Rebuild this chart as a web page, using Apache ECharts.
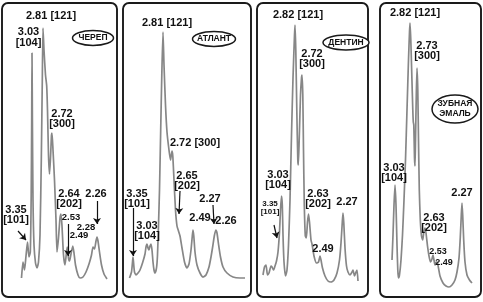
<!DOCTYPE html>
<html>
<head>
<meta charset="utf-8">
<script src="https://cdn.jsdelivr.net/npm/echarts@6/dist/echarts.min.js"></script>
<style>
  html, body { margin: 0; padding: 0; background: #fff; }
  #chart { width: 483px; height: 302px; }
</style>
</head>
<body>
<div id="chart"></div>
<script>
// samples, left to right
const samples = ['ЧЕРЕП', 'АТЛАНТ', 'ДЕНТИН', 'ЗУБНАЯ\nЭМАЛЬ'];

// diffraction traces: [channel, counts]
const trace1 = [[19.5,19],[21,35],[22.5,27],[24,41],[25.5,55],[27,40],[28.3,45],[29.2,102],[29.7,177],[30,244],[30.4,177],[31,97],[32,52],[33.5,34],[35,29],[36.5,35],[38,62],[39.3,137],[40.3,217],[41,269],[42,247],[43.5,222],[44.7,211],[45.5,187],[46.5,142],[47.5,123],[48.5,139],[49.5,162],[50,164],[51,147],[52.5,117],[54,77],[55,45],[56.5,59],[58,79],[59,83],[60,71],[61.5,42],[63,32],[64.5,45],[65.3,50],[66.5,39],[67.5,36],[69,43],[70.8,51],[72,44],[73.5,32],[76,22],[78,19],[81,20],[84,25],[87,33],[89.5,42],[91,50],[92.5,48],[94,56],[95,60],[96,56],[97.5,45],[99.5,32],[102,23],[105,18]];
const trace2 = [[6.5,19],[8.5,25],[9.5,35],[10,40],[10.6,34],[11.5,25],[13,22],[15,24],[17,27],[19.5,34],[22,43],[23,50],[24,53],[25,49],[26,47],[27,51],[28,53],[29,47],[30,35],[31,27],[32,24],[33.5,29],[34.5,42],[35.5,72],[36.5,107],[37.7,167],[38.8,222],[40,265],[41,232],[42.5,192],[44,165],[46,147],[47.5,137],[48.3,142],[49,146],[49.8,141],[51,117],[52.5,87],[54,71],[55.5,66],[57,61],[59,49],[61.5,35],[64,29],[66,33],[68,47],[69.3,61],[70,67],[70.8,61],[72,45],[74,32],[77,24],[80,20],[83,22],[86,30],[88,40],[89.8,51],[91.3,61],[92.8,67],[94,64],[95.5,53],[97.5,40],[100,30],[104,24],[110,20],[117,19],[122,19]];
const trace3 = [[6,22],[7.5,30],[9,32],[10.5,22],[12,24],[14,31],[15,30],[16.5,27],[18,31],[19.5,36],[21,45],[22.5,65],[23.5,87],[24.5,101],[25.3,92],[26,62],[27,35],[28.5,21],[30,27],[31.5,52],[33,97],[34.5,162],[36,219],[37.5,262],[38,272],[38.8,247],[39.8,187],[40.8,137],[41.3,132],[42.2,157],[43.5,202],[44.5,219],[45,222],[45.8,202],[46.5,147],[47.3,92],[48.3,61],[49.3,59],[50.5,75],[51.5,83],[52.5,75],[54,57],[55,53],[57,41],[59.5,34],[61.5,35],[63,41],[64,37],[65.5,29],[68,21],[71,16],[74,15],[77,17],[80,24],[82.5,37],[84,54],[85.3,75],[86,84],[86.8,74],[88,49],[89.5,31],[91,25],[93,22],[94.5,24],[96,27],[97.5,21],[99,25],[100,27],[101,16]];
const trace4 = [[12,37],[13,62],[14,92],[15,112],[16,92],[17,52],[17.8,27],[18.5,19],[19.5,22],[21,37],[22.5,62],[24,97],[25.5,137],[27,187],[28.5,237],[29.5,265],[30,274],[30.8,257],[31.8,222],[32.8,187],[33.3,175],[33.8,172],[34.5,139],[35,131],[35.5,157],[36.3,202],[37,229],[37.8,207],[38.5,157],[39.3,107],[40.3,77],[41.5,61],[42.7,57],[43.8,65],[45,69],[46,64],[47.5,51],[49,41],[50.5,35],[52,38],[53,42],[54,37],[55,32],[56.2,35],[57.2,35],[58.5,29],[60,21],[63,14],[66,11],[69,10],[72,12],[75,17],[77,25],[79,39],[80.3,60],[81.3,82],[82,94],[82.7,82],[83.7,57],[85,35],[87,22],[89.5,17],[92,14]];

// peak labels: d, A [hkl]
const peaks1 = ['2.81 [121]', '3.03\n[104]', '2.72\n[300]', '2.64\n[202]', '2.26', '3.35\n[101]', '2.53', '2.28', '2.49'];
const peaks2 = ['2.81 [121]', '2.72 [300]', '3.35\n[101]', '3.03\n[104]', '2.65\n[202]', '2.49', '2.27', '2.26'];
const peaks3 = ['2.82 [121]', '2.72\n[300]', '3.03\n[104]', '3.35\n[101]', '2.63\n[202]', '2.49', '2.27'];
const peaks4 = ['2.82 [121]', '2.73\n[300]', '3.03\n[104]', '2.27', '2.63\n[202]', '2.53', '2.49'];

// label anchor in data coords + font size
const place1 = [[49,281,11],[26.5,259.5,11],[60,178,11],[67,98,11],[94,103,11],[14,82,11],[69,80,9.5],[84,70,9.5],[77,62,9.5]];
const place2 = [[44,274,11],[72,154,11],[14,98,11],[24,66,11],[64,116,11],[77,79,11],[87,98,11],[103,76,11]];
const place3 = [[41,282,11],[55,238,11],[21,117,11],[13,89,8],[61,98,11],[66,48,11],[90,95,11]];
const place4 = [[35,284,11],[47,246,11],[14,124,11],[82,104,11],[54,74,11],[58,45,9],[64,34,9]];

// arrows [x1, y1, x2, y2]
const arrows1 = [[16,66,24,57],[66,73,66,41],[95,96,95,73]];
const arrows2 = [[10,89,10,41],[57,106,56,83],[90,92,91,73]];
const arrows3 = [[17,72,20,59]];
const arrows4 = [];

// panel boxes [left, top, width, height] and sample ovals [cx, cy, rx, ry]
const boxes = [[2,3,115,294],[123,3,128,294],[257,3,111,294],[380,3,101,294]];
const ovals = [[93,38,20.5,7.5],[214,39,21.5,7.5],[346,42.5,23,7.5],[455,109,23,14]];

const traces = [trace1, trace2, trace3, trace4];
const peaks = [peaks1, peaks2, peaks3, peaks4];
const places = [place1, place2, place3, place4];
const arrows = [arrows1, arrows2, arrows3, arrows4];

const font = 'Liberation Sans';
const chart = echarts.init(document.getElementById('chart'));

const grid = [], xAxis = [], yAxis = [], series = [], graphic = [];
boxes.forEach((b, i) => {
    grid.push({ left: b[0], top: b[1], width: b[2], height: b[3] });
    xAxis.push({ type: 'value', gridIndex: i, min: 0, max: b[2], show: false });
    yAxis.push({ type: 'value', gridIndex: i, min: 0, max: b[3], show: false });

    series.push({
        type: 'line',
        xAxisIndex: i, yAxisIndex: i,
        data: traces[i],
        showSymbol: false,
        smooth: 0.2,
        lineStyle: { color: '#878787', width: 1.7 },
        markPoint: {
            silent: true,
            data: peaks[i].map((t, k) => ({
                coord: [places[i][k][0], places[i][k][1]],
                symbol: 'rect', symbolSize: 1,
                itemStyle: { color: 'rgba(0,0,0,0)' },
                label: {
                    show: true, position: 'inside',
                    formatter: () => t,
                    color: '#111', fontFamily: font, fontWeight: 'bold',
                    fontSize: places[i][k][2], lineHeight: places[i][k][2] - 0.5
                }
            }))
        },
        markLine: {
            silent: true,
            symbol: ['none', 'arrow'], symbolSize: 6,
            label: { show: false },
            lineStyle: { color: '#111', width: 1.2, type: 'solid' },
            data: arrows[i].map(a => [{ coord: [a[0], a[1]] }, { coord: [a[2], a[3]] }])
        }
    });

    // panel frame
    graphic.push({
        type: 'rect', silent: true,
        shape: { x: b[0], y: b[1], width: b[2], height: b[3], r: 6 },
        style: { fill: 'none', stroke: '#1a1a1a', lineWidth: 1.9 }
    });
    const o = ovals[i];
    graphic.push({
        type: 'ellipse', silent: true,
        shape: { cx: o[0], cy: o[1], rx: o[2], ry: o[3] },
        style: { fill: '#fff', stroke: '#1a1a1a', lineWidth: 1.5 }
    });
    graphic.push({
        type: 'text', silent: true, x: o[0], y: o[1],
        style: {
            text: samples[i], fill: '#111', font: 'bold 8.5px "' + font + '"',
            align: 'center', verticalAlign: 'middle', lineHeight: 10
        }
    });
});

chart.setOption({
    animation: false,
    backgroundColor: '#fff',
    grid, xAxis, yAxis, series, graphic
});
</script>
</body>
</html>
